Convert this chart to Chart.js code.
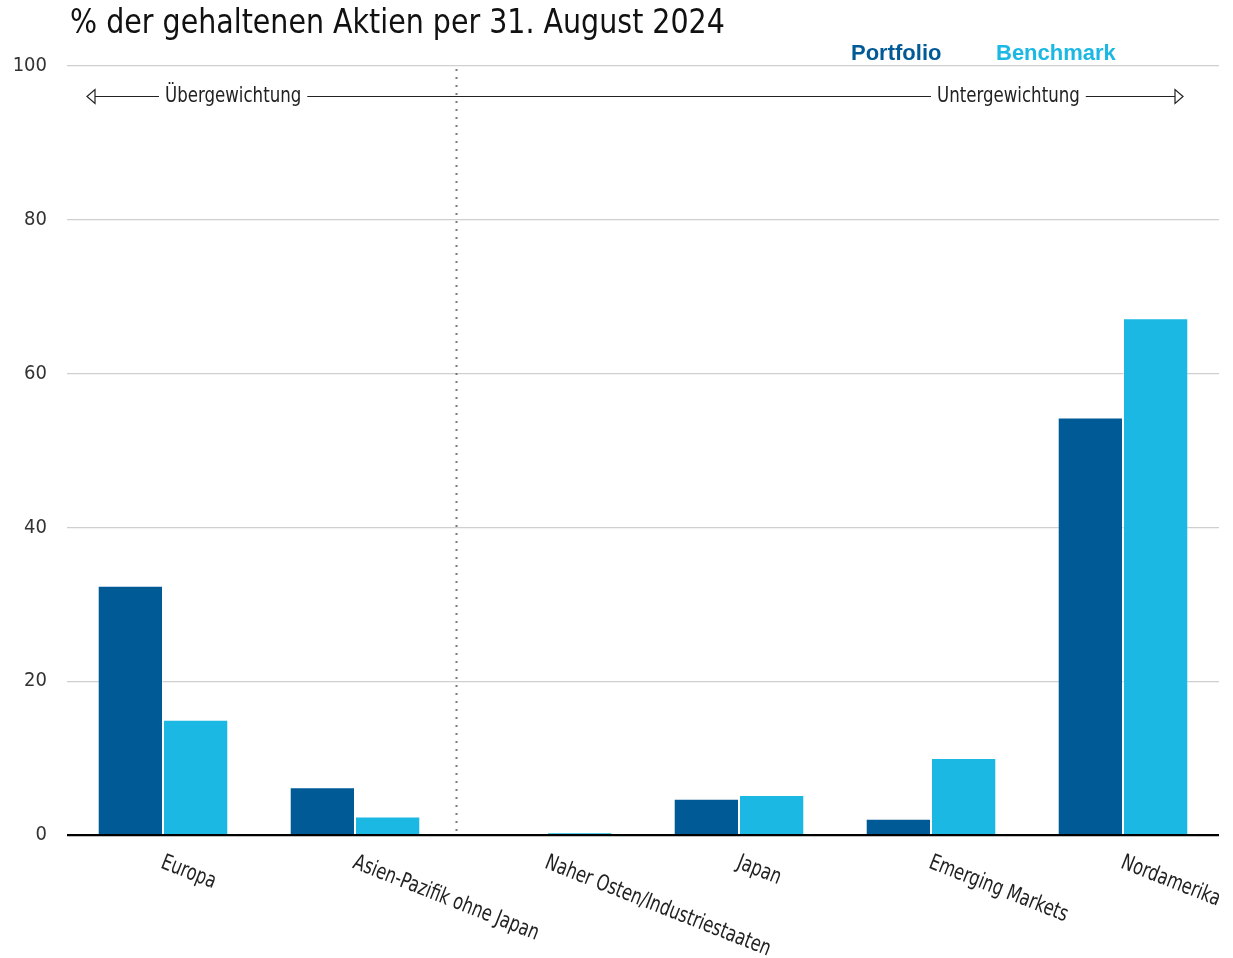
<!DOCTYPE html>
<html>
<head>
<meta charset="utf-8">
<script src="https://cdn.jsdelivr.net/npm/chart.js@4.4.1/dist/chart.umd.min.js"></script>
<style>
  html, body { margin: 0; padding: 0; background: #fff; }
  #wrap { width: 1233px; height: 958px; }
</style>
</head>
<body>
<div id="wrap"><canvas id="c" width="1233" height="958"></canvas></div>
<script>
const title = '% der gehaltenen Aktien per 31. August 2024';
const categories = ['Europa', 'Asien-Pazifik ohne Japan', 'Naher Osten/Industriestaaten', 'Japan', 'Emerging Markets', 'Nordamerika'];
const portfolio = [32.4, 6.2, 0, 4.7, 2.1, 54.3];
const benchmark = [15.0, 2.4, 0.3, 5.2, 10.0, 67.2];
const yTicks = [0, 20, 40, 60, 80, 100];
const seriesNames = ['Portfolio', 'Benchmark'];
const overLabel = 'Übergewichtung';
const underLabel = 'Untergewichtung';

const DARK = '#005a96';
const LIGHT = '#1bb8e4';
const FONT = '"Liberation Sans Narrow", "DejaVu Sans Condensed", "Roboto", sans-serif';

function condensedText(ctx, text, x, y, sx) {
  ctx.save();
  ctx.translate(x, y);
  ctx.scale(sx, 1);
  ctx.fillText(text, 0, 0);
  ctx.restore();
  return ctx.measureText(text).width * sx;
}

const decor = {
  id: 'decor',
  afterDatasetsDraw(chart) {
    const ctx = chart.ctx;
    const ca = chart.chartArea;
    const x = chart.scales.x, y = chart.scales.y;
    ctx.save();
    // dotted divider between overweight and underweight
    const dx = Math.round(x.getPixelForValue(1.525)) + 0.5;
    ctx.strokeStyle = '#777';
    ctx.lineWidth = 2;
    ctx.setLineDash([2, 6]);
    ctx.beginPath();
    ctx.moveTo(dx, ca.top + 3);
    ctx.lineTo(dx, y.getPixelForValue(0) - 4);
    ctx.stroke();
    ctx.setLineDash([]);

    // title
    ctx.fillStyle = '#111';
    ctx.font = '300 33px ' + FONT;
    ctx.textAlign = 'left';
    ctx.textBaseline = 'alphabetic';
    condensedText(ctx, title, 70, 33, 0.96);

    // legend
    ctx.font = 'bold 22px "Liberation Sans", Arial, sans-serif';
    ctx.fillStyle = DARK;
    ctx.fillText(seriesNames[0], 851, 60);
    ctx.fillStyle = LIGHT;
    ctx.fillText(seriesNames[1], 996, 60);

    // arrows
    const ay = Math.round(ca.top + 30) + 0.5;
    ctx.font = '300 22px ' + FONT;
    ctx.fillStyle = '#222';
    ctx.textBaseline = 'middle';
    const leftTip = 87, rightTip = 1183;
    const t1x = 165, t2x = 937;
    const sx = 0.84;
    const w1 = condensedText(ctx, overLabel, t1x, ay, sx);
    const w2 = condensedText(ctx, underLabel, t2x, ay, sx);
    ctx.strokeStyle = '#222';
    ctx.lineWidth = 1.2;
    ctx.beginPath();
    ctx.moveTo(leftTip + 8, ay); ctx.lineTo(t1x - 6, ay);
    ctx.moveTo(t1x + w1 + 6, ay); ctx.lineTo(t2x - 6, ay);
    ctx.moveTo(t2x + w2 + 6, ay); ctx.lineTo(rightTip - 8, ay);
    ctx.stroke();
    // hollow arrowheads
    ctx.beginPath();
    ctx.moveTo(leftTip, ay);
    ctx.lineTo(leftTip + 8, ay - 7);
    ctx.lineTo(leftTip + 8, ay + 7);
    ctx.closePath();
    ctx.moveTo(rightTip, ay);
    ctx.lineTo(rightTip - 8, ay - 7);
    ctx.lineTo(rightTip - 8, ay + 7);
    ctx.closePath();
    ctx.stroke();

    // rotated category labels
    ctx.font = '300 22px ' + FONT;
    ctx.fillStyle = '#222';
    ctx.textAlign = 'left';
    ctx.textBaseline = 'top';
    categories.forEach((c, i) => {
      const px = x.getPixelForValue(i);
      ctx.save();
      ctx.translate(px + 3, y.getPixelForValue(0) + 17);
      ctx.rotate(21.5 * Math.PI / 180);
      ctx.scale(0.82, 1);
      ctx.fillText(c, 0, 0);
      ctx.restore();
    });
    ctx.restore();
  }
};

new Chart(document.getElementById('c'), {
  type: 'bar',
  data: {
    labels: categories,
    datasets: [
      { label: seriesNames[0], data: portfolio, backgroundColor: DARK, borderColor: 'rgba(255,255,255,0.35)', borderWidth: 1, borderSkipped: 'bottom' },
      { label: seriesNames[1], data: benchmark, backgroundColor: LIGHT, borderColor: 'rgba(255,255,255,0.35)', borderWidth: 1, borderSkipped: 'bottom' }
    ]
  },
  options: {
    responsive: false,
    animation: false,
    layout: { padding: { top: 66, right: 14, left: 0, bottom: 0 } },
    plugins: { legend: { display: false }, title: { display: false }, tooltip: { enabled: false } },
    datasets: { bar: { categoryPercentage: 0.68, barPercentage: 1.0 } },
    scales: {
      x: {
        grid: { display: false },
        border: { display: false },
        ticks: { display: false },
        afterFit(s) { s.height = 123; }
      },
      y: {
        min: 0, max: 100,
        afterBuildTicks(s) { s.ticks = yTicks.map(v => ({ value: v })); },
        afterFit(s) { s.width = 67; },
        grid: {
          drawTicks: false,
          color: c => (c.tick && c.tick.value === 0) ? '#000' : '#cfcfcf',
          lineWidth: c => (c.tick && c.tick.value === 0) ? 2.2 : 1.3
        },
        border: { display: false },
        ticks: {
          padding: 20,
          color: '#333',
          font: { family: FONT, size: 20, weight: '300' }
        }
      }
    }
  },
  plugins: [decor]
});
</script>
</body>
</html>
